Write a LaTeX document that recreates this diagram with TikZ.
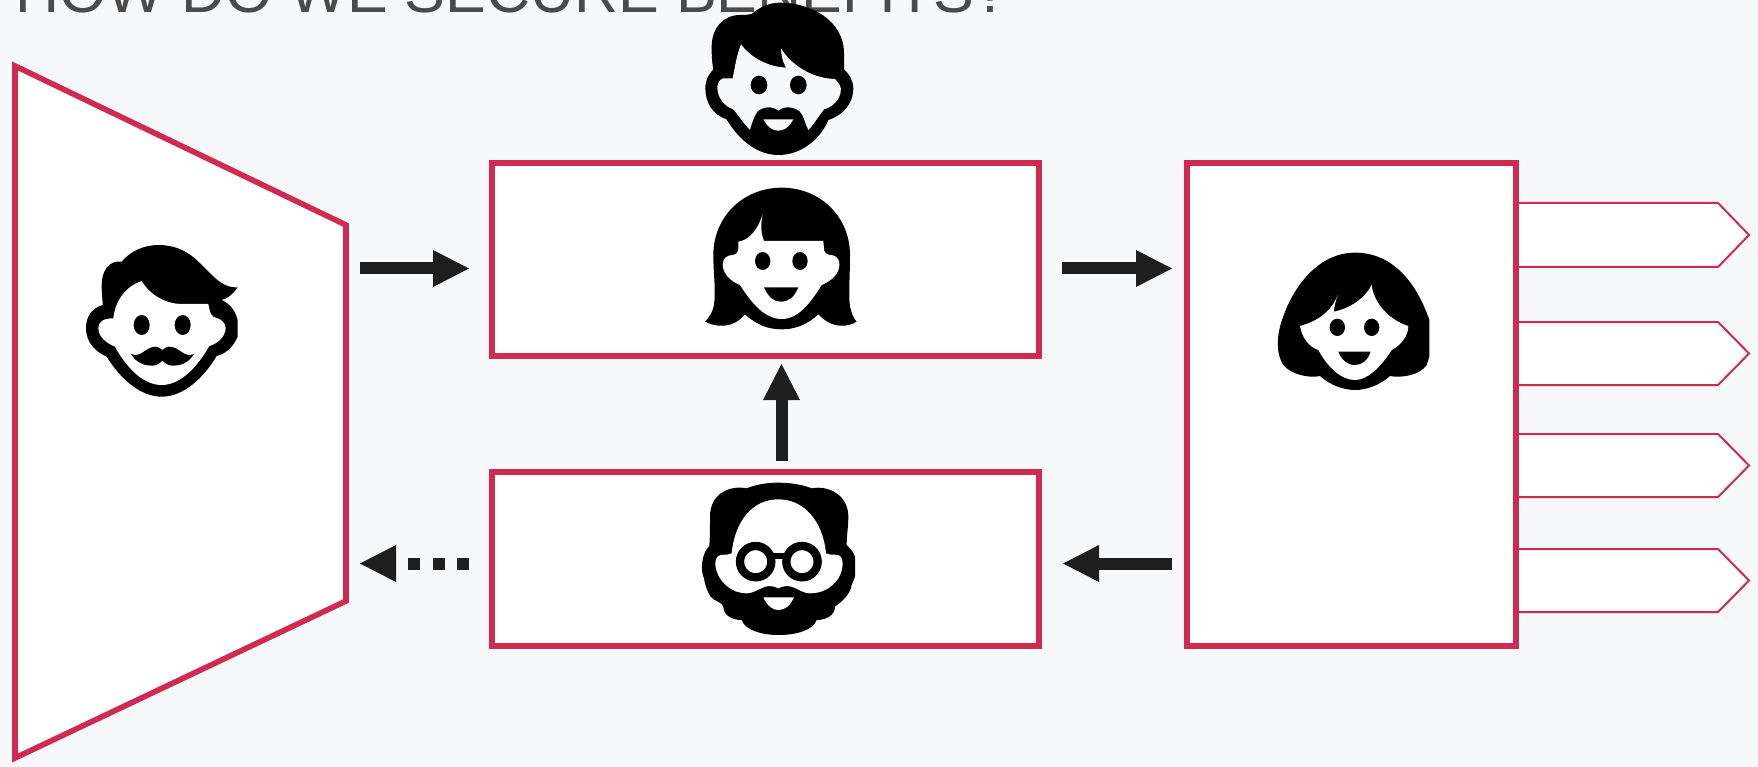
\documentclass[tikz,border=0pt]{standalone}
\usepackage{fontspec}
\setmainfont{Liberation Sans}
\usetikzlibrary{arrows.meta}
\definecolor{bgc}{HTML}{F6F8FA}
\definecolor{pink}{HTML}{D02A50}
\definecolor{arrowc}{HTML}{1E1E1E}
\definecolor{titlec}{HTML}{4A4A4A}
\tikzset{
  boxn/.style={draw=pink,line width=5.6pt,fill=white,inner sep=0pt,outer sep=0pt},
  tagn/.style={draw=pink,line width=2pt,fill=white,line join=miter},
  conn/.style={draw=arrowc,line width=12pt,-{Triangle[length=36pt,width=37pt,fill=arrowc,line width=0pt]}},
  dashconn/.style={conn,dash pattern=on 12pt off 12.5pt},
  facepx/.style={x=0.33333pt,y=-0.33333pt},
  ink/.style={fill=black},
  skin/.style={fill=white},
}
\begin{document}
\begin{tikzpicture}[x=1pt,y=-1pt]
\useasboundingbox (0,0) rectangle (1758,767);
\fill[bgc] (0,0) rectangle (1758,767);
\node[anchor=base west,inner sep=0pt,text=titlec,font=\fontsize{61}{61}\selectfont] (title) at (15,12.5) {HOW DO WE SECURE BENEFITS?};

% tags
\draw[tagn] (1517,203) -- (1718,203) -- (1749,235) -- (1718,267) -- (1517,267) -- cycle;
\draw[tagn] (1517,322) -- (1718,322) -- (1749,353.5) -- (1718,385) -- (1517,385) -- cycle;
\draw[tagn] (1517,434) -- (1718,434) -- (1749,465.5) -- (1718,497) -- (1517,497) -- cycle;
\draw[tagn] (1517,549) -- (1718,549) -- (1749,580.5) -- (1718,612) -- (1517,612) -- cycle;

% boxes
\draw[boxn,line join=miter] (15,66) -- (346,225) -- (346,601) -- (15,758) -- cycle;
\node[boxn,minimum width=547pt,minimum height=193pt] (mid) at (765.5,259.5) {};
\node[boxn,minimum width=547pt,minimum height=174pt] (low) at (765.5,559) {};
\node[boxn,minimum width=329pt,minimum height=483pt] (right) at (1351.5,404.5) {};

% connector ends
\coordinate (a1s) at (360,268.5); \coordinate (a1e) at (469,268.5);
\coordinate (a2s) at (1062,268.5); \coordinate (a2e) at (1172,268.5);
\coordinate (a3s) at (781.5,461); \coordinate (a3e) at (781.5,364);
\coordinate (a4s) at (1172,563.5); \coordinate (a4e) at (1063,563.5);
\coordinate (a5s) at (469,563.5); \coordinate (a5e) at (360,563.5);
\draw[conn] (a1s) -- (a1e);
\draw[conn] (a2s) -- (a2e);
\draw[conn] (a3s) -- (a3e);
\draw[conn] (a4s) -- (a4e);
\draw[dashconn] (a5s) -- (a5e);

% face: beard (top)
\begin{scope}[shift={(680,0)},facepx]
\fill[ink] (300,8) .. controls (390,8) and (492,60) .. (492,160) -- (492,208)
 .. controls (510,225) and (520,245) .. (520,265)
 .. controls (520,310) and (490,345) .. (445,360)
 .. controls (425,410) and (370,465) .. (295,465)
 .. controls (225,465) and (170,410) .. (140,358)
 .. controls (100,345) and (76,310) .. (76,265)
 .. controls (76,240) and (85,225) .. (100,208)
 .. controls (95,180) and (95,165) .. (95,140)
 .. controls (95,85) and (130,45) .. (180,45)
 .. controls (195,45) and (205,45) .. (215,42)
 .. controls (240,20) and (270,8) .. (300,8) -- cycle;
\fill[fill=bgc] (183,133) .. controls (210,170) and (260,200) .. (318,203)
 .. controls (308,185) and (303,165) .. (303,145)
 .. controls (330,190) and (390,235) .. (465,237)
 .. controls (478,250) and (485,262) .. (482,275)
 .. controls (480,300) and (455,322) .. (432,328)
 .. controls (415,350) and (400,375) .. (385,390)
 .. controls (375,370) and (370,345) .. (360,335)
 .. controls (345,322) and (315,315) .. (295,332)
 .. controls (275,315) and (245,322) .. (232,335)
 .. controls (222,350) and (215,370) .. (210,390)
 .. controls (190,370) and (175,345) .. (160,328)
 .. controls (135,320) and (112,295) .. (112,262)
 .. controls (112,248) and (120,237) .. (130,235) -- (158,235)
 .. controls (165,200) and (170,165) .. (183,133) -- cycle;
\fill[ink] (237,255) ellipse (25 and 28);
\fill[ink] (355,255) ellipse (25 and 28);
\fill[fill=bgc] (250,358) -- (340,358) .. controls (325,385) and (310,392) .. (295,392) .. controls (280,392) and (265,385) .. (250,358) -- cycle;
\end{scope}

% face: fringe (middle box)
\begin{scope}[shift={(690,175)},facepx]
\fill[ink] (275,38) .. controls (390,38) and (480,125) .. (480,240)
 .. controls (480,300) and (475,360) .. (480,395)
 .. controls (485,415) and (490,430) .. (500,440)
 .. controls (475,455) and (430,465) .. (385,418)
 .. controls (350,450) and (315,463) .. (275,463)
 .. controls (235,463) and (200,450) .. (165,418)
 .. controls (125,465) and (75,455) .. (45,440)
 .. controls (60,425) and (68,410) .. (72,390)
 .. controls (78,340) and (70,300) .. (70,240)
 .. controls (70,125) and (160,38) .. (275,38) -- cycle;
\fill[skin] (145,200) .. controls (180,195) and (205,160) .. (218,118)
 .. controls (212,145) and (212,175) .. (222,198) -- (400,198) -- (402,225)
 .. controls (405,238) and (415,240) .. (425,240)
 .. controls (440,242) and (450,255) .. (448,270)
 .. controls (448,295) and (425,318) .. (395,330)
 .. controls (360,385) and (325,432) .. (275,432)
 .. controls (225,432) and (185,385) .. (150,330)
 .. controls (120,318) and (98,295) .. (98,268)
 .. controls (98,250) and (112,240) .. (128,240)
 .. controls (140,238) and (145,230) .. (145,220) -- cycle;
\fill[ink] (218,258) ellipse (23 and 27);
\fill[ink] (330,258) ellipse (23 and 27);
\fill[ink] (222,337) -- (325,337) .. controls (312,368) and (295,380) .. (272,380) .. controls (250,380) and (235,365) .. (222,337) -- cycle;
\end{scope}

% face: moustache (trapezoid)
\begin{scope}[shift={(70,230)},facepx]
\fill[ink] (503,172) .. controls (450,175) and (420,125) .. (385,95)
 .. controls (350,60) and (310,45) .. (265,45)
 .. controls (220,45) and (180,65) .. (155,95)
 .. controls (115,90) and (95,125) .. (95,165)
 .. controls (95,190) and (98,210) .. (98,225)
 .. controls (65,235) and (48,260) .. (48,295)
 .. controls (48,335) and (75,365) .. (110,380)
 .. controls (150,445) and (210,500) .. (275,500)
 .. controls (340,500) and (400,445) .. (440,378)
 .. controls (470,370) and (490,350) .. (503,320) -- (503,270)
 .. controls (495,240) and (480,222) .. (455,210)
 .. controls (475,205) and (490,190) .. (503,172) -- cycle;
\fill[skin] (215,153) .. controls (240,195) and (285,220) .. (330,222) -- (415,222)
 .. controls (420,250) and (425,262) .. (440,264)
 .. controls (455,268) and (467,280) .. (467,295)
 .. controls (465,320) and (445,340) .. (418,348)
 .. controls (385,405) and (335,465) .. (275,465)
 .. controls (215,465) and (165,405) .. (135,350)
 .. controls (110,340) and (85,320) .. (85,295)
 .. controls (85,275) and (100,265) .. (130,265)
 .. controls (135,215) and (165,170) .. (215,153) -- cycle;
\fill[ink] (215,285) ellipse (24 and 30);
\fill[ink] (338,285) ellipse (24 and 30);
\fill[ink] (183,372) .. controls (215,385) and (225,350) .. (258,350)
 .. controls (265,350) and (272,355) .. (277,360)
 .. controls (282,355) and (290,350) .. (297,350)
 .. controls (330,350) and (340,385) .. (372,372)
 .. controls (355,400) and (330,407) .. (310,407)
 .. controls (295,407) and (285,400) .. (277,392)
 .. controls (270,400) and (260,407) .. (245,407)
 .. controls (225,407) and (200,400) .. (183,372) -- cycle;
\end{scope}

% face: glasses (lower box)
\begin{scope}[shift={(690,470)},facepx]
\fill[ink] (265,38) .. controls (225,38) and (195,45) .. (170,55)
 .. controls (120,45) and (60,70) .. (60,140)
 .. controls (60,170) and (60,200) .. (58,228)
 .. controls (35,250) and (30,300) .. (42,325)
 .. controls (46,350) and (55,370) .. (62,380)
 .. controls (75,395) and (95,395) .. (100,410)
 .. controls (100,435) and (125,450) .. (155,450)
 .. controls (165,480) and (215,495) .. (265,495)
 .. controls (320,495) and (370,480) .. (380,450)
 .. controls (410,450) and (435,435) .. (435,410)
 .. controls (455,395) and (480,375) .. (485,345)
 -- (495,320) -- (495,260)
 .. controls (490,245) and (480,235) .. (470,225)
 .. controls (470,195) and (475,170) .. (475,140)
 .. controls (475,75) and (415,45) .. (365,55)
 .. controls (340,45) and (305,38) .. (265,38) -- cycle;
\fill[skin] (265,88) .. controls (190,88) and (135,150) .. (125,250)
 .. controls (110,258) and (95,250) .. (85,258)
 .. controls (70,270) and (75,300) .. (90,325)
 .. controls (110,355) and (140,370) .. (170,370)
 .. controls (195,370) and (215,348) .. (240,348)
 .. controls (250,348) and (258,352) .. (265,355)
 .. controls (272,352) and (280,348) .. (290,348)
 .. controls (315,348) and (335,370) .. (360,370)
 .. controls (395,370) and (425,355) .. (445,325)
 .. controls (460,300) and (462,270) .. (450,258)
 .. controls (440,250) and (425,258) .. (408,250)
 .. controls (398,150) and (340,88) .. (265,88) -- cycle;
\draw[line width=8.3pt,draw=black] (197,275) circle (47);
\draw[line width=8.3pt,draw=black] (336,275) circle (47);
\draw[line width=6.5pt,draw=black] (245,258) -- (290,258);
\fill[skin] (220,382) -- (312,382) .. controls (300,408) and (285,420) .. (265,420) .. controls (248,420) and (232,408) .. (220,382) -- cycle;
\end{scope}

% face: bob (right box)
\begin{scope}[shift={(1260,240)},facepx]
\fill[ink] (285,38) .. controls (170,38) and (90,150) .. (60,260)
 .. controls (50,300) and (50,345) .. (70,375)
 .. controls (95,405) and (150,415) .. (180,408)
 .. controls (210,435) and (250,450) .. (285,450)
 .. controls (320,450) and (360,435) .. (390,408)
 .. controls (425,415) and (480,405) .. (500,375)
 -- (508,350) -- (508,240)
 .. controls (470,130) and (400,38) .. (285,38) -- cycle;
\fill[skin] (120,258) .. controls (170,245) and (215,215) .. (233,165)
 .. controls (228,180) and (222,200) .. (222,215)
 .. controls (270,205) and (315,175) .. (335,135)
 .. controls (340,185) and (385,240) .. (445,258)
 .. controls (445,285) and (425,315) .. (395,330)
 .. controls (360,385) and (320,420) .. (285,420)
 .. controls (245,420) and (205,385) .. (175,330)
 .. controls (145,320) and (125,290) .. (120,258) -- cycle;
\fill[ink] (232,262) ellipse (23 and 26);
\fill[ink] (335,262) ellipse (23 and 26);
\fill[ink] (235,335) -- (332,335) .. controls (322,362) and (305,375) .. (285,375) .. controls (262,375) and (245,360) .. (235,335) -- cycle;
\end{scope}
\end{tikzpicture}
\end{document}
